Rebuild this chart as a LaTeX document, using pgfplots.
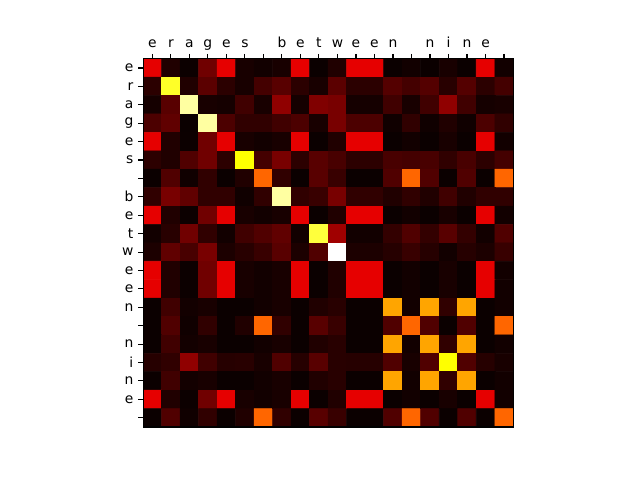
\documentclass[border=0pt]{standalone}
\usepackage{fontspec}
\setmainfont{DejaVu Sans}
\usepackage{pgfplots}
\pgfplotsset{compat=1.18}

\begin{document}
\fontsize{10}{12}\selectfont
\begin{tikzpicture}[x=0.01in,y=0.01in]
\path[use as bounding box] (0,0) rectangle (640,480);
\begin{axis}[at={(1.43in,0.53in)},anchor=south west,
  scale only axis,width=3.70in,height=3.68in,
  colormap={mplhot}{rgb255(0pt)=(11,0,0) rgb255(365pt)=(255,0,0) rgb255(746pt)=(255,255,0) rgb255(1000pt)=(255,255,255)},
  point meta min=0,point meta max=1000,
  xmin=-0.5,xmax=19.5,ymin=-0.5,ymax=19.5,y dir=reverse,
  enlargelimits=false,
  xtick={0,...,19},ytick={0,...,19},
  xticklabels={\mbox{e},\mbox{r},\mbox{a},\mbox{g},\mbox{e},\mbox{s},{},\mbox{b},\mbox{e},\mbox{t},\mbox{w},\mbox{e},\mbox{e},\mbox{n},{},\mbox{n},\mbox{i},\mbox{n},\mbox{e},{}},
  yticklabels={\mbox{e},\mbox{r},\mbox{a},\mbox{g},\mbox{e},\mbox{s},{},\mbox{b},\mbox{e},\mbox{t},\mbox{w},\mbox{e},\mbox{e},\mbox{n},{},\mbox{n},\mbox{i},\mbox{n},\mbox{e},{}},
  xtick pos=upper,xticklabel pos=upper,ytick pos=left,
  tick align=outside,major tick length=3.5pt,
  tick style={black,line width=0.8pt},
  axis line style={black,line width=0.8pt},
  tick label style={font=\fontsize{10}{12}\selectfont},
  xticklabel style={text height=7.5pt,text depth=2.5pt,inner sep=1pt,yshift=1pt},
  axis on top]
% rows: e r a g e s _ b e t w e e n _ n i n e _
\addplot[matrix plot*,mesh/cols=20,point meta=explicit] coordinates {
(0,0)[328] (1,0)[31] (2,0)[2] (3,0)[151] (4,0)[328] (5,0)[19] (6,0)[10] (7,0)[19] (8,0)[328] (9,0)[0] (10,0)[31] (11,0)[328] (12,0)[328] (13,0)[0] (14,0)[10] (15,0)[0] (16,0)[19] (17,0)[0] (18,0)[328] (19,0)[10]
(0,1)[48] (1,1)[786] (2,1)[31] (3,1)[120] (4,1)[48] (5,1)[19] (6,1)[85] (7,1)[115] (8,1)[48] (9,1)[19] (10,1)[120] (11,1)[48] (12,1)[48] (13,1)[109] (14,1)[85] (15,1)[109] (16,1)[43] (17,1)[109] (18,1)[48] (19,1)[85]
(0,2)[15] (1,2)[115] (2,2)[906] (3,2)[19] (4,2)[15] (5,2)[79] (6,2)[19] (7,2)[199] (8,2)[15] (9,2)[175] (10,2)[163] (11,2)[15] (12,2)[15] (13,2)[79] (14,2)[19] (15,2)[79] (16,2)[199] (17,2)[79] (18,2)[15] (19,2)[19]
(0,3)[97] (1,3)[127] (2,3)[0] (3,3)[906] (4,3)[97] (5,3)[55] (6,3)[55] (7,3)[79] (8,3)[97] (9,3)[19] (10,3)[163] (11,3)[97] (12,3)[97] (13,3)[7] (14,3)[55] (15,3)[7] (16,3)[31] (17,3)[7] (18,3)[97] (19,3)[55]
(0,4)[328] (1,4)[31] (2,4)[2] (3,4)[151] (4,4)[328] (5,4)[19] (6,4)[10] (7,4)[19] (8,4)[328] (9,4)[0] (10,4)[31] (11,4)[328] (12,4)[328] (13,4)[0] (14,4)[10] (15,4)[0] (16,4)[19] (17,4)[0] (18,4)[328] (19,4)[10]
(0,5)[50] (1,5)[31] (2,5)[103] (3,5)[151] (4,5)[50] (5,5)[746] (6,5)[85] (7,5)[163] (8,5)[50] (9,5)[115] (10,5)[91] (11,5)[50] (12,5)[50] (13,5)[91] (14,5)[85] (15,5)[91] (16,5)[55] (17,5)[91] (18,5)[50] (19,5)[85]
(0,6)[0] (1,6)[103] (2,6)[7] (3,6)[55] (4,6)[0] (5,6)[31] (6,6)[517] (7,6)[55] (8,6)[0] (9,6)[115] (10,6)[67] (11,6)[0] (12,6)[0] (13,6)[103] (14,6)[517] (15,6)[103] (16,6)[0] (17,6)[103] (18,6)[0] (19,6)[517]
(0,7)[55] (1,7)[163] (2,7)[127] (3,7)[55] (4,7)[55] (5,7)[7] (6,7)[55] (7,7)[906] (8,7)[55] (9,7)[67] (10,7)[163] (11,7)[55] (12,7)[55] (13,7)[31] (14,7)[55] (15,7)[31] (16,7)[79] (17,7)[31] (18,7)[55] (19,7)[55]
(0,8)[328] (1,8)[31] (2,8)[2] (3,8)[151] (4,8)[328] (5,8)[19] (6,8)[10] (7,8)[19] (8,8)[328] (9,8)[0] (10,8)[31] (11,8)[328] (12,8)[328] (13,8)[0] (14,8)[10] (15,8)[0] (16,8)[19] (17,8)[0] (18,8)[328] (19,8)[10]
(0,9)[10] (1,9)[43] (2,9)[151] (3,9)[55] (4,9)[10] (5,9)[79] (6,9)[103] (7,9)[127] (8,9)[10] (9,9)[806] (10,9)[223] (11,9)[10] (12,9)[10] (13,9)[60] (14,9)[103] (15,9)[60] (16,9)[115] (17,9)[60] (18,9)[10] (19,9)[103]
(0,10)[25] (1,10)[127] (2,10)[91] (3,10)[163] (4,10)[25] (5,10)[43] (6,10)[67] (7,10)[115] (8,10)[25] (9,10)[103] (10,10)[1000] (11,10)[25] (12,10)[25] (13,10)[40] (14,10)[67] (15,10)[40] (16,10)[10] (17,10)[40] (18,10)[25] (19,10)[67]
(0,11)[328] (1,11)[31] (2,11)[2] (3,11)[151] (4,11)[328] (5,11)[19] (6,11)[10] (7,11)[19] (8,11)[328] (9,11)[0] (10,11)[31] (11,11)[328] (12,11)[328] (13,11)[0] (14,11)[10] (15,11)[0] (16,11)[19] (17,11)[0] (18,11)[328] (19,11)[10]
(0,12)[328] (1,12)[31] (2,12)[2] (3,12)[151] (4,12)[328] (5,12)[19] (6,12)[10] (7,12)[19] (8,12)[328] (9,12)[0] (10,12)[31] (11,12)[328] (12,12)[328] (13,12)[0] (14,12)[10] (15,12)[0] (16,12)[19] (17,12)[0] (18,12)[328] (19,12)[10]
(0,13)[0] (1,13)[79] (2,13)[12] (3,13)[19] (4,13)[0] (5,13)[0] (6,13)[10] (7,13)[19] (8,13)[0] (9,13)[31] (10,13)[43] (11,13)[0] (12,13)[0] (13,13)[611] (14,13)[10] (15,13)[611] (16,13)[55] (17,13)[611] (18,13)[0] (19,13)[10]
(0,14)[0] (1,14)[103] (2,14)[7] (3,14)[55] (4,14)[0] (5,14)[31] (6,14)[517] (7,14)[55] (8,14)[0] (9,14)[115] (10,14)[67] (11,14)[0] (12,14)[0] (13,14)[103] (14,14)[517] (15,14)[103] (16,14)[0] (17,14)[103] (18,14)[0] (19,14)[517]
(0,15)[0] (1,15)[79] (2,15)[12] (3,15)[19] (4,15)[0] (5,15)[0] (6,15)[10] (7,15)[19] (8,15)[0] (9,15)[31] (10,15)[43] (11,15)[0] (12,15)[0] (13,15)[611] (14,15)[10] (15,15)[611] (16,15)[55] (17,15)[611] (18,15)[0] (19,15)[10]
(0,16)[40] (1,16)[55] (2,16)[199] (3,16)[79] (4,16)[40] (5,16)[43] (6,16)[19] (7,16)[103] (8,16)[40] (9,16)[115] (10,16)[43] (11,16)[40] (12,16)[40] (13,16)[103] (14,16)[19] (15,16)[103] (16,16)[746] (17,16)[103] (18,16)[40] (19,16)[19]
(0,17)[0] (1,17)[79] (2,17)[12] (3,17)[19] (4,17)[0] (5,17)[0] (6,17)[10] (7,17)[19] (8,17)[0] (9,17)[31] (10,17)[43] (11,17)[0] (12,17)[0] (13,17)[611] (14,17)[10] (15,17)[611] (16,17)[55] (17,17)[611] (18,17)[0] (19,17)[10]
(0,18)[328] (1,18)[31] (2,18)[2] (3,18)[151] (4,18)[328] (5,18)[19] (6,18)[10] (7,18)[19] (8,18)[328] (9,18)[0] (10,18)[31] (11,18)[328] (12,18)[328] (13,18)[0] (14,18)[10] (15,18)[0] (16,18)[19] (17,18)[0] (18,18)[328] (19,18)[10]
(0,19)[0] (1,19)[103] (2,19)[7] (3,19)[55] (4,19)[0] (5,19)[31] (6,19)[517] (7,19)[55] (8,19)[0] (9,19)[115] (10,19)[67] (11,19)[0] (12,19)[0] (13,19)[103] (14,19)[517] (15,19)[103] (16,19)[0] (17,19)[103] (18,19)[0] (19,19)[517]
};
\end{axis}
\end{tikzpicture}
\end{document}
